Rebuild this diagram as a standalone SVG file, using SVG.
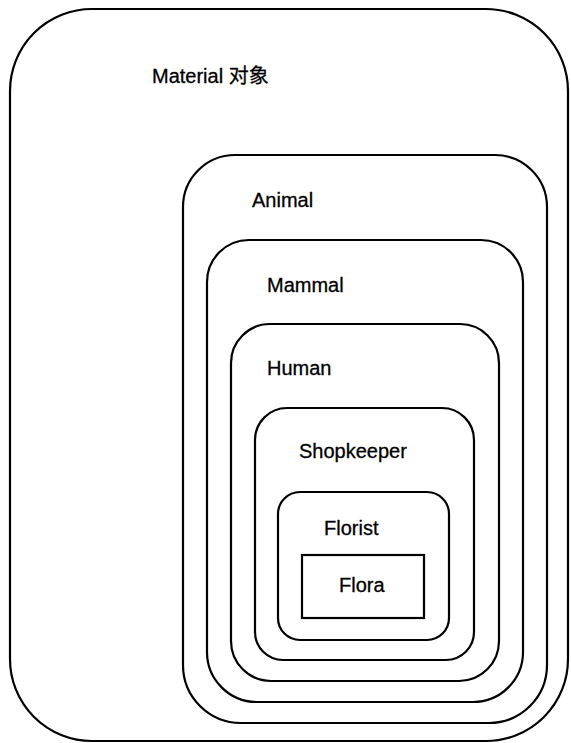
<svg xmlns="http://www.w3.org/2000/svg" width="571" height="743" viewBox="0 0 571 743">
<style>
.box{fill:none;stroke:#000;stroke-width:2.2}
.lbl{font-family:"Liberation Sans","Noto Sans CJK SC",Arial,sans-serif;font-size:20px;fill:#000;stroke:#000;stroke-width:0.3}
</style>
<rect x="0" y="0" width="571" height="743" fill="#fff"/>
<g id="material">
<path class="box" d="M92,9 H486 A82 82 0 0 1 568,91 V659 A82 82 0 0 1 486,741 H92 A82 82 0 0 1 10,659 V91 A82 82 0 0 1 92,9 Z"/>
<text class="lbl" x="152" y="83">Material 对象</text>
</g>
<g id="animal">
<path class="box" d="M235,155 H495 A52 52 0 0 1 547,207 V665 A58 58 0 0 1 489,723 H241 A58 58 0 0 1 183,665 V207 A52 52 0 0 1 235,155 Z"/>
<text class="lbl" x="252" y="207">Animal</text>
</g>
<g id="mammal">
<path class="box" d="M249,240 H481 A42 42 0 0 1 523,282 V652 A50 50 0 0 1 473,702 H257 A50 50 0 0 1 207,652 V282 A42 42 0 0 1 249,240 Z"/>
<text class="lbl" x="267" y="292">Mammal</text>
</g>
<g id="human">
<path class="box" d="M270,324 H460 A39 39 0 0 1 499,363 V641 A40 40 0 0 1 459,681 H271 A40 40 0 0 1 231,641 V363 A39 39 0 0 1 270,324 Z"/>
<text class="lbl" x="267" y="375">Human</text>
</g>
<g id="shopkeeper">
<path class="box" d="M287,408 H442 A32 32 0 0 1 474,440 V632 A28 28 0 0 1 446,660 H283 A28 28 0 0 1 255,632 V440 A32 32 0 0 1 287,408 Z"/>
<text class="lbl" x="299" y="458">Shopkeeper</text>
</g>
<g id="florist">
<rect class="box" x="278" y="492" width="171" height="148" rx="22" ry="22"/>
<text class="lbl" x="324" y="535">Florist</text>
</g>
<g id="flora">
<rect class="box" x="302" y="555" width="122" height="63"/>
<text class="lbl" x="339" y="592">Flora</text>
</g>
<g id="connectors"></g>
</svg>
